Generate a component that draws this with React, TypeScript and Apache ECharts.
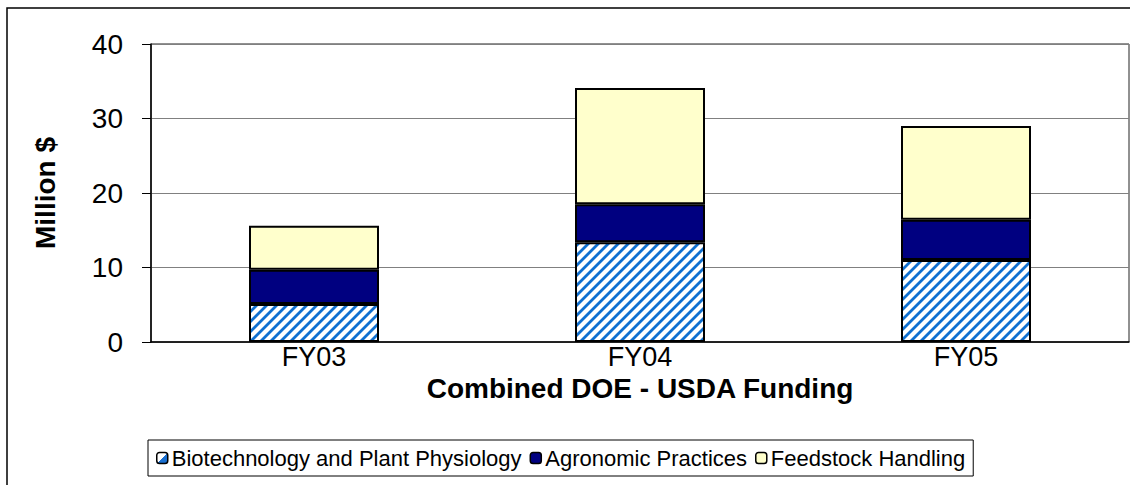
import React, { useEffect, useRef } from "react";
import * as echarts from "echarts";

const categories = ["FY03", "FY04", "FY05"];
const biotech = [5.1, 13.4, 11.0];
const agronomic = [4.6, 5.1, 5.4];
const feedstock = [5.9, 15.6, 12.6];
const seriesNames = [
  "Biotechnology and Plant Physiology",
  "Agronomic Practices",
  "Feedstock Handling",
];

const FONT = "'Liberation Sans', Arial, sans-serif";

function makeStripeCanvas(): HTMLCanvasElement {
  const s = 10;
  const c = document.createElement("canvas");
  c.width = s;
  c.height = s;
  const ctx = c.getContext("2d")!;
  const img = ctx.createImageData(s, s);
  for (let y = 0; y < s; y++) {
    for (let x = 0; x < s; x++) {
      const d = (x + y) % s;
      const i = (y * s + x) * 4;
      let r = 255, g = 255, b = 255;
      if (d < 3) {
        r = 16; g = 112; b = 208;
      } else if (d === 3 || d === s - 1) {
        r = 140; g = 185; b = 232;
      }
      img.data[i] = r;
      img.data[i + 1] = g;
      img.data[i + 2] = b;
      img.data[i + 3] = 255;
    }
  }
  ctx.putImageData(img, 0, 0);
  return c;
}

export default function App() {
  const ref = useRef<HTMLDivElement>(null);
  useEffect(() => {
    if (!ref.current) return;
    const chart = echarts.init(ref.current, undefined, { renderer: "svg" });
    const stripe = makeStripeCanvas();
    const barBorder = { borderColor: "#000", borderWidth: 2 };
    chart.setOption({
      animation: false,
      backgroundColor: "#fff",
      textStyle: { fontFamily: FONT, color: "#000" },
      graphic: [
        {
          type: "rect",
          shape: { x: 7, y: 8, width: 1200, height: 600 },
          style: { fill: "none", stroke: "#000", lineWidth: 1.5 },
          z: 100,
          silent: true,
        },
      ],
      grid: {
        left: 151,
        top: 44,
        right: 1,
        bottom: 143,
        show: true,
        borderColor: "#222",
        borderWidth: 1,
      },
      legend: {
        left: 148,
        top: 440,
        orient: "horizontal",
        borderColor: "#000",
        borderWidth: 1,
        padding: [7, 8, 7, 8],
        itemWidth: 11,
        itemHeight: 11,
        itemGap: 8,
        textStyle: { fontFamily: FONT, fontSize: 22, color: "#000", padding: [0, 0, 0, -1] },
        data: [
          {
            name: seriesNames[0],
            itemStyle: {
              color: {
                type: "linear",
                x: 0, y: 0, x2: 1, y2: 1,
                colorStops: [
                  { offset: 0, color: "#fff" },
                  { offset: 0.5, color: "#fff" },
                  { offset: 0.5, color: "#1a6fd0" },
                  { offset: 1, color: "#1a6fd0" },
                ],
              },
              borderColor: "#000",
              borderWidth: 1.5,
            },
          },
          { name: seriesNames[1], itemStyle: { borderColor: "#000", borderWidth: 1.5 } },
          { name: seriesNames[2], itemStyle: { borderColor: "#000", borderWidth: 1.5 } },
        ],
      },
      xAxis: {
        type: "category",
        data: categories,
        axisLine: { lineStyle: { color: "#000", width: 1.5 } },
        axisTick: { show: false },
        axisLabel: { fontSize: 27, color: "#000", fontFamily: FONT, margin: 1 },
        name: "Combined DOE - USDA Funding",
        nameLocation: "middle",
        nameGap: 28,
        nameTextStyle: { fontSize: 28, fontWeight: "bold", color: "#000", fontFamily: FONT },
      },
      yAxis: {
        type: "value",
        min: 0,
        max: 40,
        interval: 10,
        axisLine: { show: true, lineStyle: { color: "#000", width: 1.5 } },
        axisTick: { show: true, length: 9, lineStyle: { color: "#000" } },
        axisLabel: { fontSize: 28, color: "#000", fontFamily: FONT, margin: 28 },
        splitLine: { lineStyle: { color: "#808080", width: 1 } },
        name: "Million $",
        nameLocation: "middle",
        nameGap: 92,
        nameRotate: 90,
        nameTextStyle: { fontSize: 28, fontWeight: "bold", color: "#000", fontFamily: FONT },
      },
      series: [
        {
          name: seriesNames[0],
          type: "bar",
          stack: "total",
          barWidth: 130,
          data: biotech,
          itemStyle: {
            color: { image: stripe, repeat: "repeat" },
            ...barBorder,
          },
        },
        {
          name: seriesNames[1],
          type: "bar",
          stack: "total",
          barWidth: 130,
          data: agronomic,
          itemStyle: { color: "#000080", ...barBorder },
        },
        {
          name: seriesNames[2],
          type: "bar",
          stack: "total",
          barWidth: 130,
          data: feedstock,
          itemStyle: { color: "#FFFFCC", ...barBorder },
        },
      ],
    });
    return () => chart.dispose();
  }, []);
  return (
    <div
      ref={ref}
      style={{ position: "fixed", left: 0, top: 0, width: 1130, height: 485 }}
    />
  );
}
